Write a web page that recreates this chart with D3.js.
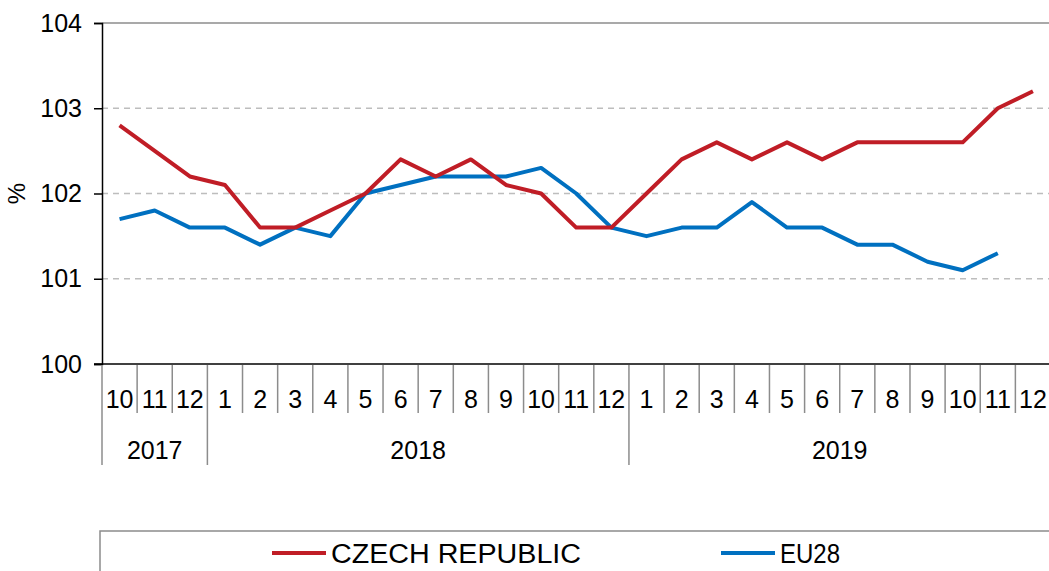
<!DOCTYPE html>
<html>
<head>
<meta charset="utf-8">
<script src="https://cdn.jsdelivr.net/npm/d3@7"></script>
<style>
  body { margin: 0; background: #fff; }
  svg { display: block; font-family: "Liberation Sans", Arial, sans-serif; }
</style>
</head>
<body>
<svg></svg>
<script>
var width = 1049;
var height = 571;

var months = ["10", "11", "12", "1", "2", "3", "4", "5", "6", "7", "8", "9", "10", "11", "12",
              "1", "2", "3", "4", "5", "6", "7", "8", "9", "10", "11", "12"];
var years = [{ year: "2017", count: 3 }, { year: "2018", count: 12 }, { year: "2019", count: 12 }];
var czech = [102.8, 102.5, 102.2, 102.1, 101.6, 101.6, 101.8, 102.0, 102.4, 102.2, 102.4, 102.1, 102.0, 101.6, 101.6,
             102.0, 102.4, 102.6, 102.4, 102.6, 102.4, 102.6, 102.6, 102.6, 102.6, 103.0, 103.2];
var eu28 = [101.7, 101.8, 101.6, 101.6, 101.4, 101.6, 101.5, 102.0, 102.1, 102.2, 102.2, 102.2, 102.3, 102.0, 101.6,
            101.5, 101.6, 101.6, 101.9, 101.6, 101.6, 101.4, 101.4, 101.2, 101.1, 101.3, null];
var yTicks = [100, 101, 102, 103, 104];

var plotLeft = 102, plotRight = 1050.5, plotTop = 23, plotBottom = 364;

var svg = d3.select("svg")
            .attr("width", width)
            .attr("height", height);

var x = d3.scaleBand()
          .domain(d3.range(months.length))
          .range([plotLeft, plotRight]);

var y = d3.scaleLinear()
          .domain([100, 104])
          .range([plotBottom, plotTop]);

// grid
svg.append("g")
    .selectAll("line")
    .data(yTicks.filter(d => d > 100))
    .enter().append("line")
        .attr("x1", plotLeft)
        .attr("x2", plotRight)
        .attr("y1", d => y(d))
        .attr("y2", d => y(d))
        .attr("stroke", d => d === 104 ? "#8c8c8c" : "#bdbdbd")
        .attr("stroke-width", 1.5)
        .attr("stroke-dasharray", d => d === 104 ? null : "6,5");

// y axis
var yAxis = svg.append("g")
    .attr("transform", "translate(" + plotLeft + ",0)")
    .call(d3.axisLeft(y).tickValues(yTicks).tickSize(8).tickPadding(12).tickFormat(d3.format("d")));
yAxis.select(".domain").attr("stroke", "#000").attr("stroke-width", 1.5);
yAxis.selectAll(".tick line").attr("stroke", "#000").attr("stroke-width", 1.5);
yAxis.selectAll(".tick text")
    .attr("fill", "#000")
    .style("font-size", "25px")
    .style("font-family", "Liberation Sans, Arial, sans-serif");

svg.append("text")
    .attr("transform", "translate(25," + y(102) + ") rotate(-90)")
    .attr("text-anchor", "middle")
    .style("font-size", "24px")
    .text("%");

// x axis line
svg.append("line")
    .attr("x1", plotLeft - 8)
    .attr("x2", plotRight)
    .attr("y1", plotBottom)
    .attr("y2", plotBottom)
    .attr("stroke", "#000")
    .attr("stroke-width", 1.5);

// month separators
svg.append("g")
    .selectAll("line")
    .data(d3.range(months.length + 1))
    .enter().append("line")
        .attr("x1", d => plotLeft + d * x.step())
        .attr("x2", d => plotLeft + d * x.step())
        .attr("y1", plotBottom + 1)
        .attr("y2", plotBottom + 49)
        .attr("stroke", "#8c8c8c")
        .attr("stroke-width", 1.5);

svg.append("g")
    .selectAll("text")
    .data(months)
    .enter().append("text")
        .attr("x", (d, i) => x(i) + x.bandwidth() / 2)
        .attr("y", 408)
        .attr("text-anchor", "middle")
        .style("font-size", "25px")
        .text(d => d);

// year groups
var start = 0;
years.forEach(function(yr) {
    yr.start = start;
    start += yr.count;
});

svg.append("g")
    .selectAll("line")
    .data(years.map(d => d.start))
    .enter().append("line")
        .attr("x1", d => plotLeft + d * x.step())
        .attr("x2", d => plotLeft + d * x.step())
        .attr("y1", plotBottom + 49)
        .attr("y2", 465)
        .attr("stroke", "#8c8c8c")
        .attr("stroke-width", 1.5);

svg.append("g")
    .selectAll("text")
    .data(years)
    .enter().append("text")
        .attr("x", d => plotLeft + (d.start + d.count / 2) * x.step())
        .attr("y", 459)
        .attr("text-anchor", "middle")
        .style("font-size", "25px")
        .text(d => d.year);

// lines
var line = d3.line()
    .defined(d => d != null)
    .x((d, i) => x(i) + x.bandwidth() / 2)
    .y(d => y(d));

svg.append("path")
    .datum(eu28)
    .attr("fill", "none")
    .attr("stroke", "#0070c0")
    .attr("stroke-width", 4)
    .attr("stroke-linejoin", "round")
    .attr("d", line);

svg.append("path")
    .datum(czech)
    .attr("fill", "none")
    .attr("stroke", "#c01d26")
    .attr("stroke-width", 4)
    .attr("stroke-linejoin", "round")
    .attr("d", line);

// legend
svg.append("rect")
    .attr("x", 100)
    .attr("y", 531)
    .attr("width", 960)
    .attr("height", 60)
    .attr("fill", "none")
    .attr("stroke", "#8c8c8c")
    .attr("stroke-width", 1.5);

var legendItems = [
    { name: "CZECH REPUBLIC", color: "#c01d26", x: 272 },
    { name: "EU28", color: "#0070c0", x: 721 }
];

var legend = svg.append("g")
    .selectAll("g")
    .data(legendItems)
    .enter().append("g")
        .attr("transform", d => "translate(" + d.x + ",553)");

legend.append("line")
    .attr("x1", 0)
    .attr("x2", 54)
    .attr("stroke", d => d.color)
    .attr("stroke-width", 4);

legend.append("text")
    .attr("x", 59)
    .attr("y", 10)
    .style("font-size", "27px")
    .attr("textLength", d => d.name === "EU28" ? 60 : 250)
    .attr("lengthAdjust", "spacingAndGlyphs")
    .text(d => d.name);
</script>
</body>
</html>
